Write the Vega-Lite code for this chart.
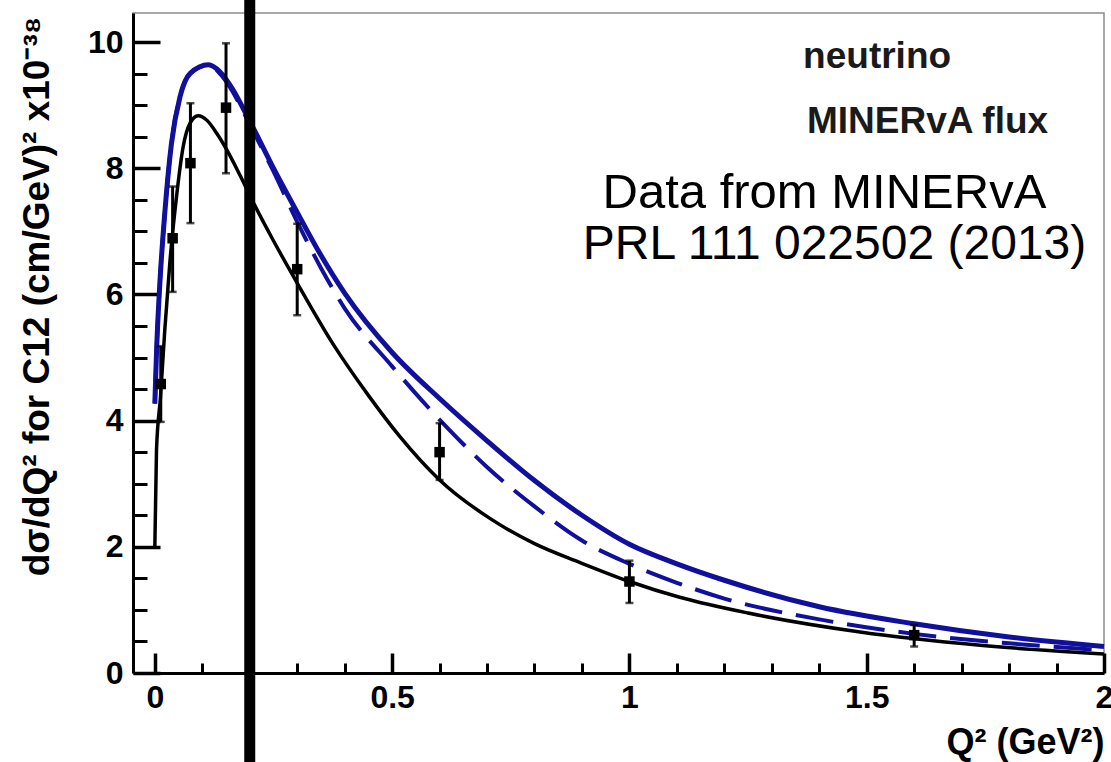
{
  "$schema": "https://vega.github.io/schema/vega-lite/v6.json",
  "width": 971,
  "height": 660,
  "autosize": {"type": "none"},
  "padding": {"left": 133, "top": 13, "right": 7, "bottom": 89},
  "background": "white",
  "config": {
    "view": {"stroke": "#8a8a8a", "strokeWidth": 1.5},
    "font": "Liberation Sans",
    "axis": {"grid": false, "domainColor": "black", "domainWidth": 3, "tickColor": "black", "labelColor": "black", "titleColor": "black", "labelFont": "Liberation Sans", "titleFont": "Liberation Sans"}
  },
  "datasets": {
    "curves": [
      {"q2": 0.0, "xs": 2.0, "curve": "black"},
      {"q2": 0.0035, "xs": 3.53, "curve": "black"},
      {"q2": 0.012, "xs": 4.38, "curve": "black"},
      {"q2": 0.021, "xs": 5.44, "curve": "black"},
      {"q2": 0.0316, "xs": 6.5, "curve": "black"},
      {"q2": 0.0457, "xs": 7.55, "curve": "black"},
      {"q2": 0.0597, "xs": 8.34, "curve": "black"},
      {"q2": 0.074, "xs": 8.71, "curve": "black"},
      {"q2": 0.0913, "xs": 8.83, "curve": "black"},
      {"q2": 0.1096, "xs": 8.76, "curve": "black"},
      {"q2": 0.1307, "xs": 8.55, "curve": "black"},
      {"q2": 0.1517, "xs": 8.29, "curve": "black"},
      {"q2": 0.18, "xs": 7.88, "curve": "black"},
      {"q2": 0.21, "xs": 7.42, "curve": "black"},
      {"q2": 0.25, "xs": 6.85, "curve": "black"},
      {"q2": 0.3, "xs": 6.18, "curve": "black"},
      {"q2": 0.375, "xs": 5.22, "curve": "black"},
      {"q2": 0.45, "xs": 4.4, "curve": "black"},
      {"q2": 0.516, "xs": 3.75, "curve": "black"},
      {"q2": 0.6, "xs": 3.06, "curve": "black"},
      {"q2": 0.706, "xs": 2.45, "curve": "black"},
      {"q2": 0.8, "xs": 2.05, "curve": "black"},
      {"q2": 0.896, "xs": 1.75, "curve": "black"},
      {"q2": 1.0, "xs": 1.45, "curve": "black"},
      {"q2": 1.106, "xs": 1.2, "curve": "black"},
      {"q2": 1.25, "xs": 0.95, "curve": "black"},
      {"q2": 1.486, "xs": 0.65, "curve": "black"},
      {"q2": 1.739, "xs": 0.44, "curve": "black"},
      {"q2": 2.0, "xs": 0.3, "curve": "black"},
      {"q2": 0.0, "xs": 4.27, "curve": "blue"},
      {"q2": 0.004, "xs": 5.17, "curve": "blue"},
      {"q2": 0.011, "xs": 6.23, "curve": "blue"},
      {"q2": 0.021, "xs": 7.29, "curve": "blue"},
      {"q2": 0.035, "xs": 8.39, "curve": "blue"},
      {"q2": 0.053, "xs": 9.13, "curve": "blue"},
      {"q2": 0.074, "xs": 9.5, "curve": "blue"},
      {"q2": 0.113, "xs": 9.64, "curve": "blue"},
      {"q2": 0.137, "xs": 9.53, "curve": "blue"},
      {"q2": 0.165, "xs": 9.24, "curve": "blue"},
      {"q2": 0.186, "xs": 8.95, "curve": "blue"},
      {"q2": 0.22, "xs": 8.45, "curve": "blue"},
      {"q2": 0.25, "xs": 8.0, "curve": "blue"},
      {"q2": 0.3, "xs": 7.3, "curve": "blue"},
      {"q2": 0.35, "xs": 6.62, "curve": "blue"},
      {"q2": 0.4, "xs": 6.02, "curve": "blue"},
      {"q2": 0.5, "xs": 5.08, "curve": "blue"},
      {"q2": 0.6, "xs": 4.35, "curve": "blue"},
      {"q2": 0.7, "xs": 3.68, "curve": "blue"},
      {"q2": 0.8, "xs": 3.05, "curve": "blue"},
      {"q2": 0.9, "xs": 2.5, "curve": "blue"},
      {"q2": 1.0, "xs": 2.04, "curve": "blue"},
      {"q2": 1.1, "xs": 1.73, "curve": "blue"},
      {"q2": 1.2, "xs": 1.47, "curve": "blue"},
      {"q2": 1.4, "xs": 1.05, "curve": "blue"},
      {"q2": 1.6, "xs": 0.78, "curve": "blue"},
      {"q2": 1.8, "xs": 0.57, "curve": "blue"},
      {"q2": 2.0, "xs": 0.42, "curve": "blue"},
      {"q2": 0.0, "xs": 4.27, "curve": "blue dashed"},
      {"q2": 0.004, "xs": 5.17, "curve": "blue dashed"},
      {"q2": 0.011, "xs": 6.23, "curve": "blue dashed"},
      {"q2": 0.021, "xs": 7.29, "curve": "blue dashed"},
      {"q2": 0.035, "xs": 8.39, "curve": "blue dashed"},
      {"q2": 0.053, "xs": 9.13, "curve": "blue dashed"},
      {"q2": 0.074, "xs": 9.5, "curve": "blue dashed"},
      {"q2": 0.113, "xs": 9.63, "curve": "blue dashed"},
      {"q2": 0.137, "xs": 9.5, "curve": "blue dashed"},
      {"q2": 0.165, "xs": 9.2, "curve": "blue dashed"},
      {"q2": 0.186, "xs": 8.9, "curve": "blue dashed"},
      {"q2": 0.22, "xs": 8.4, "curve": "blue dashed"},
      {"q2": 0.25, "xs": 7.95, "curve": "blue dashed"},
      {"q2": 0.3, "xs": 7.15, "curve": "blue dashed"},
      {"q2": 0.35, "xs": 6.42, "curve": "blue dashed"},
      {"q2": 0.4, "xs": 5.78, "curve": "blue dashed"},
      {"q2": 0.5, "xs": 4.86, "curve": "blue dashed"},
      {"q2": 0.565, "xs": 4.3, "curve": "blue dashed"},
      {"q2": 0.621, "xs": 3.85, "curve": "blue dashed"},
      {"q2": 0.702, "xs": 3.25, "curve": "blue dashed"},
      {"q2": 0.8, "xs": 2.64, "curve": "blue dashed"},
      {"q2": 0.9, "xs": 2.1, "curve": "blue dashed"},
      {"q2": 1.0, "xs": 1.73, "curve": "blue dashed"},
      {"q2": 1.1, "xs": 1.43, "curve": "blue dashed"},
      {"q2": 1.2, "xs": 1.18, "curve": "blue dashed"},
      {"q2": 1.4, "xs": 0.85, "curve": "blue dashed"},
      {"q2": 1.6, "xs": 0.62, "curve": "blue dashed"},
      {"q2": 1.8, "xs": 0.47, "curve": "blue dashed"},
      {"q2": 2.0, "xs": 0.36, "curve": "blue dashed"}
    ],
    "points": [
      {"q2": 0.0125, "xs": 4.58, "lo": 3.98, "hi": 5.18},
      {"q2": 0.0375, "xs": 6.89, "lo": 6.04, "hi": 7.71},
      {"q2": 0.075, "xs": 8.08, "lo": 7.13, "hi": 9.03},
      {"q2": 0.15, "xs": 8.96, "lo": 7.92, "hi": 9.98},
      {"q2": 0.3, "xs": 6.4, "lo": 5.67, "hi": 7.12},
      {"q2": 0.6, "xs": 3.5, "lo": 3.06, "hi": 3.96},
      {"q2": 1.0, "xs": 1.45, "lo": 1.11, "hi": 1.78},
      {"q2": 1.6, "xs": 0.6, "lo": 0.42, "hi": 0.76}
    ],
    "one": [{"note": "annotation"}]
  },
  "resolve": {"axis": {"x": "independent", "y": "independent"}},
  "layer": [
    {
      "data": {"name": "curves"},
      "transform": [{"filter": "datum.curve === 'blue dashed'"}],
      "mark": {"type": "line", "color": "#10109c", "strokeWidth": 4, "strokeDash": [38, 14], "interpolate": "monotone"},
      "encoding": {
        "x": {"field": "q2", "type": "quantitative", "scale": {"domain": [-0.046, 2.0], "nice": false, "zero": false},
          "axis": {"orient": "bottom", "values": [0.1,0.2,0.3,0.4,0.6,0.7,0.8,0.9,1.1,1.2,1.3,1.4,1.6,1.7,1.8,1.9], "labels": false, "title": null, "domain": false, "tickSize": -10, "tickWidth": 3}},
        "y": {"field": "xs", "type": "quantitative", "scale": {"domain": [0, 10.46], "nice": false, "zero": false},
          "axis": {"orient": "left", "values": [0.5,1,1.5,2.5,3,3.5,4.5,5,5.5,6.5,7,7.5,8.5,9,9.5], "labels": false, "title": null, "domain": false, "tickSize": -14, "tickWidth": 3}}
      }
    },
    {
      "data": {"name": "curves"},
      "transform": [{"filter": "datum.curve === 'blue'"}],
      "mark": {"type": "line", "color": "#10109c", "strokeWidth": 5, "interpolate": "monotone"},
      "encoding": {
        "x": {"field": "q2", "type": "quantitative", "axis": null},
        "y": {"field": "xs", "type": "quantitative", "axis": null}
      }
    },
    {
      "data": {"name": "curves"},
      "transform": [{"filter": "datum.curve === 'black'"}],
      "mark": {"type": "line", "color": "black", "strokeWidth": 3.5, "interpolate": "monotone"},
      "encoding": {
        "x": {"field": "q2", "type": "quantitative", "axis": null},
        "y": {"field": "xs", "type": "quantitative", "axis": null}
      }
    },
    {
      "data": {"name": "points"},
      "mark": {"type": "rule", "color": "black", "strokeWidth": 3},
      "encoding": {
        "x": {"field": "q2", "type": "quantitative", "axis": null},
        "y": {"field": "lo", "type": "quantitative", "axis": null},
        "y2": {"field": "hi"}
      }
    },
    {
      "data": {"name": "points"},
      "mark": {"type": "tick", "color": "black", "size": 8, "thickness": 2.5, "orient": "horizontal"},
      "encoding": {
        "x": {"field": "q2", "type": "quantitative", "axis": null},
        "y": {"field": "lo", "type": "quantitative", "axis": null}
      }
    },
    {
      "data": {"name": "points"},
      "mark": {"type": "tick", "color": "black", "size": 8, "thickness": 2.5, "orient": "horizontal"},
      "encoding": {
        "x": {"field": "q2", "type": "quantitative", "axis": null},
        "y": {"field": "hi", "type": "quantitative", "axis": null}
      }
    },
    {
      "data": {"name": "points"},
      "mark": {"type": "square", "color": "black", "filled": true, "size": 110, "opacity": 1},
      "encoding": {
        "x": {"field": "q2", "type": "quantitative",
          "axis": {"orient": "bottom", "values": [0, 0.5, 1, 1.5, 2], "labelExpr": "format(datum.value, '~g')", "tickSize": -20, "tickWidth": 3.5, "labelPadding": 29, "labelFontSize": 32, "labelFontWeight": "bold", "labelFlush": false, "labelBaseline": "top",
            "title": "Q² (GeV²)", "titleFontSize": 36, "titleFontWeight": "bold", "titleAnchor": "end", "titleAlign": "right", "titleBaseline": "alphabetic", "titleX": 971, "titleY": 80}},
        "y": {"field": "xs", "type": "quantitative",
          "axis": {"orient": "left", "values": [0, 2, 4, 6, 8, 10], "tickSize": -27, "tickWidth": 3.5, "labelPadding": 37, "labelFontSize": 32, "labelFontWeight": "bold",
            "title": "dσ/dQ² for C12 (cm/GeV)² x10⁻³⁸", "titleFontSize": 37, "titleFontWeight": "bold", "titleAngle": 270, "titleAlign": "center", "titleBaseline": "alphabetic", "titleX": -85, "titleY": 283}}
      }
    },
    {
      "data": {"values": [{"q2": 0.2}]},
      "mark": {"type": "rule", "color": "black", "strokeWidth": 11},
      "encoding": {
        "x": {"field": "q2", "type": "quantitative", "axis": null},
        "y": {"datum": -1.5, "type": "quantitative", "axis": null},
        "y2": {"datum": 10.8}
      }
    },
    {
      "data": {"name": "one"},
      "mark": {"type": "text", "text": "neutrino", "fontSize": 37, "fontWeight": "bold", "align": "left", "baseline": "alphabetic", "color": "#1a1a1a"},
      "encoding": {"x": {"datum": 1.366, "type": "quantitative", "axis": null}, "y": {"datum": 9.59, "type": "quantitative", "axis": null}}
    },
    {
      "data": {"name": "one"},
      "mark": {"type": "text", "text": "MINERvA flux", "fontSize": 37, "fontWeight": "bold", "align": "left", "baseline": "alphabetic", "color": "#1a1a1a"},
      "encoding": {"x": {"datum": 1.374, "type": "quantitative", "axis": null}, "y": {"datum": 8.56, "type": "quantitative", "axis": null}}
    },
    {
      "data": {"name": "one"},
      "mark": {"type": "text", "text": "Data from MINERvA", "fontSize": 49, "align": "center", "baseline": "alphabetic", "color": "black"},
      "encoding": {"x": {"datum": 1.411, "type": "quantitative", "axis": null}, "y": {"datum": 7.37, "type": "quantitative", "axis": null}}
    },
    {
      "data": {"name": "one"},
      "mark": {"type": "text", "text": "PRL 111 022502 (2013)", "fontSize": 48, "align": "center", "baseline": "alphabetic", "color": "black"},
      "encoding": {"x": {"datum": 1.4321, "type": "quantitative", "axis": null}, "y": {"datum": 6.56, "type": "quantitative", "axis": null}}
    }
  ]
}
